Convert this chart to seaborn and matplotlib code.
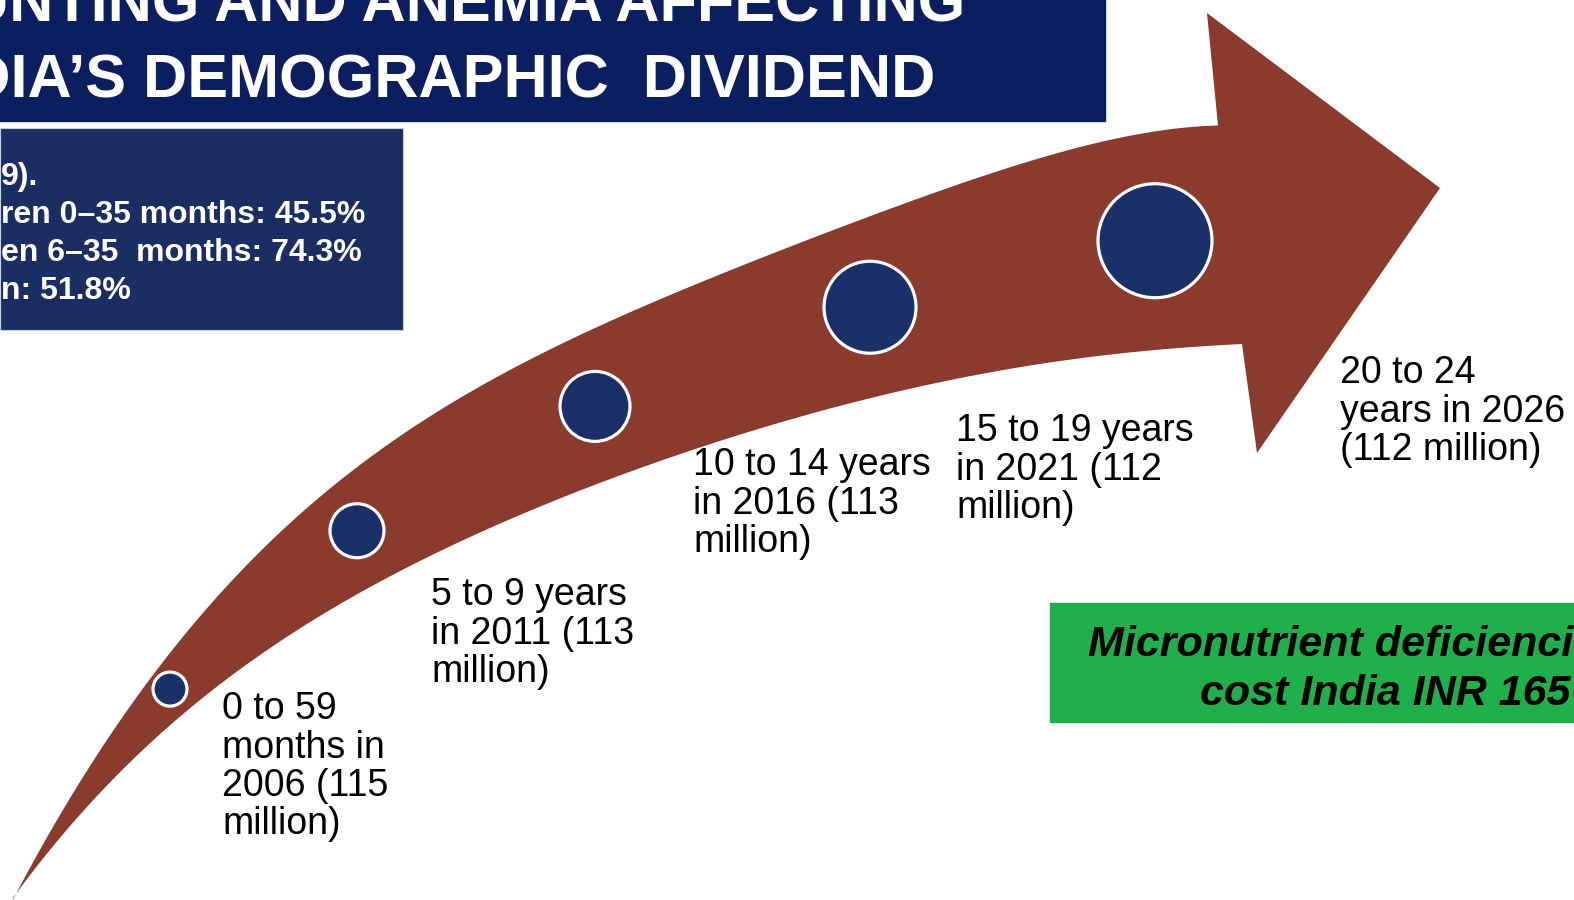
"""
Stunting and anemia slide: the cohort arrow from 2006 to 2026.
Redrawn as a single full-bleed axes in pixel units (1574 x 900).
"""
import textwrap
import numpy as np
import pandas as pd
import matplotlib.pyplot as plt
import matplotlib.patches as mpatches
import seaborn as sns

sns.set_theme(style="white")
plt.rcParams["font.family"] = ["Liberation Sans", "DejaVu Sans"]

W, H, DPI = 1574, 900, 100
PX = 72 / DPI            # pixel -> point

# ── content ────────────────────────────────────────────────────────────────
AGE_GROUPS  = ["0 to 59 months", "5 to 9 years", "10 to 14 years",
               "15 to 19 years", "20 to 24 years"]
YEARS       = [2006, 2011, 2016, 2021, 2026]
POP_MILLION = [115, 113, 113, 112, 112]

TITLE_LINES = ["STUNTING AND ANEMIA AFFECTING", "INDIA\u2019S DEMOGRAPHIC  DIVIDEND"]

STAT_PREFIX = ["ren 0\u201335 months: ", "en 6\u201335  months: ", "n: "]
STAT_VALUE  = [45.5, 74.3, 51.8]
SOURCE_TAIL = "9)."

COST_LINES = ["Micronutrient deficiencies", "cost India INR 165"]

# ── layout (pixels) ────────────────────────────────────────────────────────
NAVY_TITLE = "#0b1f60"
NAVY_BOX   = "#1a2e63"
NAVY_DOT   = "#1b3068"
RUST       = "#8b3a2e"
GREEN      = "#1fb04b"

UPPER_EDGE = [(13, 897), (43, 845), (85, 778), (130, 708), (175, 643), (230, 582),
              (280, 533), (347, 474), (413, 428), (480, 385), (547, 350), (613, 322),
              (680, 294), (780, 250), (913, 196), (1047, 158), (1180, 131), (1218, 123)]
LOWER_EDGE = [(13, 897), (67, 833), (117, 773), (165, 728), (213, 688), (287, 640),
              (330, 612), (413, 564), (480, 531), (547, 502), (613, 478), (680, 455),
              (780, 424), (913, 387), (1047, 363), (1180, 348), (1242, 344)]
HEAD       = [(1207, 13), (1440, 188), (1257, 453)]

STAGE_X    = [170, 357, 595, 870, 1155]
DOT_RADIUS = [17, 27, 35, 46, 57]

WRAP_WIDTH = [9, 12, 14, 14, 13]
LABEL_XY   = [(222, 719), (431, 605), (693, 475), (956, 441), (1340, 383)]
LABEL_STEP = 38.5


def edge_curve(pts, deg=5, n=300):
    """Smooth edge: polynomial y(x) fitted through the traced points."""
    x, y = np.asarray(pts, float).T
    coef = np.polyfit(x, y, deg)
    xs = np.linspace(x[0], x[-1], n)
    return np.column_stack([xs, np.polyval(coef, xs)])


fig = plt.figure(figsize=(W / DPI, H / DPI), dpi=DPI)
ax = fig.add_axes([0, 0, 1, 1])

# ── title band ─────────────────────────────────────────────────────────────
ax.add_patch(mpatches.Rectangle((0, 0), 1105, 121, color=NAVY_TITLE, zorder=1))
ax.text(965, 22, TITLE_LINES[0], ha="right", va="baseline", color="white",
        fontsize=44, fontweight="bold", zorder=2)
ax.text(935, 97, TITLE_LINES[1], ha="right", va="baseline", color="white",
        fontsize=44, fontweight="bold", zorder=2)

# ── stats box ──────────────────────────────────────────────────────────────
ax.add_patch(mpatches.Rectangle((0, 128), 403, 202, facecolor=NAVY_BOX,
                                edgecolor="#c9cfdc", lw=0.8, zorder=1))
stat_lines = [SOURCE_TAIL] + [f"{p}{v:.1f}%" for p, v in zip(STAT_PREFIX, STAT_VALUE)]
for i, line in enumerate(stat_lines):
    ax.text(1, 185 + i * 38, line, ha="left", va="baseline", color="white",
            fontsize=23, fontweight="bold", zorder=2)

# ── arrow ──────────────────────────────────────────────────────────────────
up = edge_curve(UPPER_EDGE)
lo = edge_curve(LOWER_EDGE)
outline = np.vstack([up, np.array(HEAD), lo[::-1]])
ax.fill(outline[:, 0], outline[:, 1], color=RUST, lw=0, zorder=2)

# dots sit halfway between the two edges
dots = pd.DataFrame({
    "age": AGE_GROUPS,
    "x": STAGE_X,
    "y": [(np.interp(x, up[:, 0], up[:, 1]) + np.interp(x, lo[:, 0], lo[:, 1])) / 2
          for x in STAGE_X],
})
sizes = [(2 * r * PX) ** 2 for r in DOT_RADIUS]
sns.scatterplot(data=dots, x="x", y="y", s=sizes, color=NAVY_DOT,
                edgecolor="white", linewidth=2.3, legend=False, ax=ax, zorder=3)

# ── cohort labels ──────────────────────────────────────────────────────────
for age, yr, pop, wrap, (lx, ly) in zip(AGE_GROUPS, YEARS, POP_MILLION,
                                         WRAP_WIDTH, LABEL_XY):
    text = f"{age} in {yr} ({pop} million)"
    for j, line in enumerate(textwrap.wrap(text, wrap)):
        ax.text(lx, ly + j * LABEL_STEP, line, ha="left", va="baseline",
                color="black", fontsize=27, zorder=4)

# ── cost box ───────────────────────────────────────────────────────────────
ax.add_patch(mpatches.Rectangle((1050, 603), 600, 119, color=GREEN, zorder=1))
ax.text(1088, 656, COST_LINES[0], ha="left", va="baseline", color="black",
        fontsize=31, fontweight="bold", fontstyle="italic", zorder=2)
ax.text(1200, 705, COST_LINES[1], ha="left", va="baseline", color="black",
        fontsize=31, fontweight="bold", fontstyle="italic", zorder=2)

ax.set_xlim(0, W)
ax.set_ylim(H, 0)
ax.axis("off")

fig.savefig("out.png", dpi=DPI)
